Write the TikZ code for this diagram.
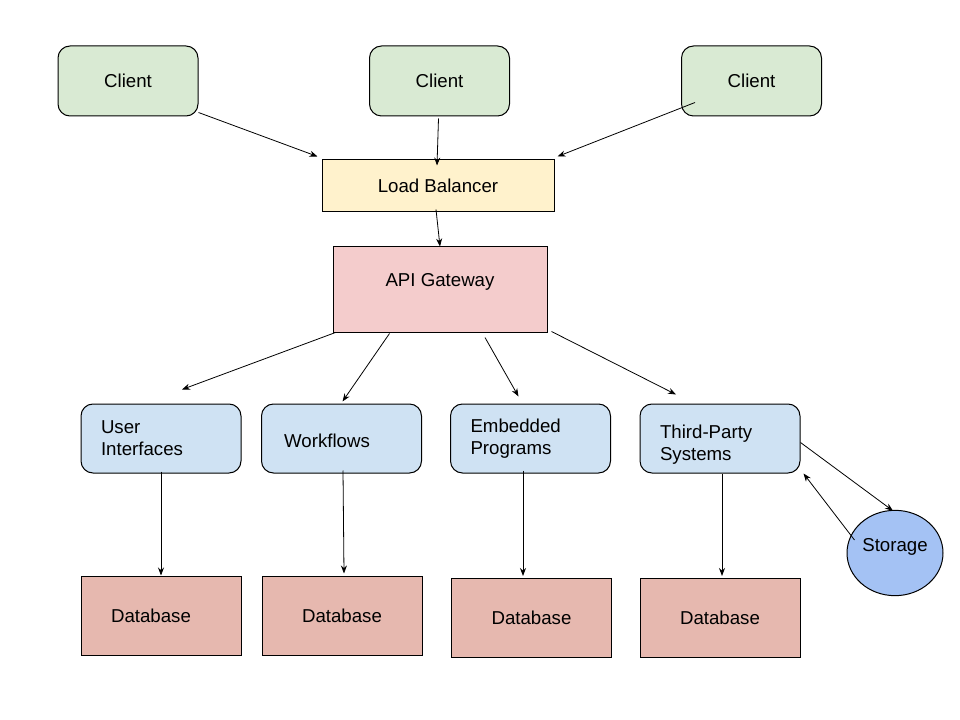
\documentclass[tikz,border=0pt]{standalone}
\usepackage{fontspec}
\setmainfont{Liberation Sans}
\usetikzlibrary{positioning,calc,shapes.geometric,arrows.meta}

\definecolor{clientgreen}{HTML}{D9EAD3}
\definecolor{lbyellow}{HTML}{FFF2CC}
\definecolor{gatepink}{HTML}{F4CCCC}
\definecolor{svcblue}{HTML}{CFE2F3}
\definecolor{dbred}{HTML}{E6B8AF}
\definecolor{storeblue}{HTML}{A4C2F4}

\tikzset{
	box/.style={draw, line width=0.75pt, font=\fontsize{14}{16.5}\selectfont},
	client/.style={box, fill=clientgreen, rounded corners=9pt, minimum width=105pt, minimum height=52.5pt},
	balancer/.style={box, fill=lbyellow, minimum width=174pt, minimum height=39pt},
	gateway/.style={box, fill=gatepink, minimum width=160.5pt, minimum height=63.75pt, text depth=14pt},
	service/.style={box, fill=svcblue, rounded corners=9pt, minimum width=120pt, minimum height=51.75pt, text width=90pt, align=left},
	database/.style={box, fill=dbred, minimum width=120pt, minimum height=59.25pt},
	store/.style={box, ellipse, fill=storeblue, inner sep=0pt, minimum width=72pt, minimum height=64pt, text depth=12pt},
	link/.style={draw, line width=0.6pt, -{Stealth[length=6pt,width=4.5pt]}}
}

\begin{document}
\begin{tikzpicture}[x=0.75pt, y=-0.75pt]
		\useasboundingbox (0,0) rectangle (960,720);

		\node[client]	(c1)	at (128,81)		{Client};
		\node[client]	(c2)	at (439.5,81)	{Client};
		\node[client]	(c3)	at (751.5,81)	{Client};
		\node[balancer]	(lb)	at (438,186)	{Load Balancer};
		\node[gateway]	(api)	at (440,289.5)	{API Gateway};

		\node[service]	(ui)	at (161,438.5)		{User\\Interfaces};
		\node[service]	(wf)	at (341.5,438.5)	{\rule{0pt}{14pt}\hspace{2pt}Workflows};
		\node[service]	(ep)	at (530.5,438.5)	{Embedded\\Programs};
		\node[service]	(tp)	at (720,438.5)		{\rule{0pt}{19pt}Third-Party\\Systems};

		\node[database]	(db1)	at (161,615.5)	{\hspace*{-15pt}Database};
		\node[database]	(db2)	at (342,615.5)	{Database};
		\node[database]	(db3)	at (531.5,618)	{Database};
		\node[database]	(db4)	at (720,618)	{Database};
		\node[store]	(st)	at (895,553)	{Storage};

		\draw[link] ($(c1.south east)+(0,-4)$)	-- ($(lb.north west)+(-4,-3)$);
		\draw[link] ($(c2.south)+(-1,2)$)		-- ($(lb.north)+(-1,6)$);
		\draw[link] ($(c3.south west)+(14,-14)$)	-- ($(lb.north east)+(3,-3)$);
		\draw[link] ($(lb.south)+(-2,-3)$)		-- (api.north);

		\draw[link] ($(api.south west)+(3,0)$)	-- ($(ui.north)+(21,-14)$);
		\draw[link] ($(api.south west)+(57,1)$)	-- ($(wf.north)+(1,-2)$);
		\draw[link] ($(api.south)+(45,5)$)		-- ($(ep.north)+(-12,-7)$);
		\draw[link] ($(api.south east)+(4,-1)$)	-- ($(tp.north)+(-44,-9)$);

		\draw[link] ($(ui.south)+(0,-2)$)		-- (db1.north);
		\draw[link] ($(wf.south)+(1.5,-3)$)		-- ($(db2.north)+(2,-2)$);
		\draw[link] ($(ep.south)+(-7.5,-3)$)	-- ($(db3.north)+(-8.5,-2)$);
		\draw[link] ($(tp.south)+(2,0)$)		-- ($(db4.north)+(2,-2)$);

		\draw[link] ($(tp.east)+(0,4)$)			-- ($(st.north)+(-2,1)$);
		\draw[link] ($(st.west)+(8,-13)$)		-- ($(tp.south east)+(3,0)$);
	\end{tikzpicture}
\end{document}
